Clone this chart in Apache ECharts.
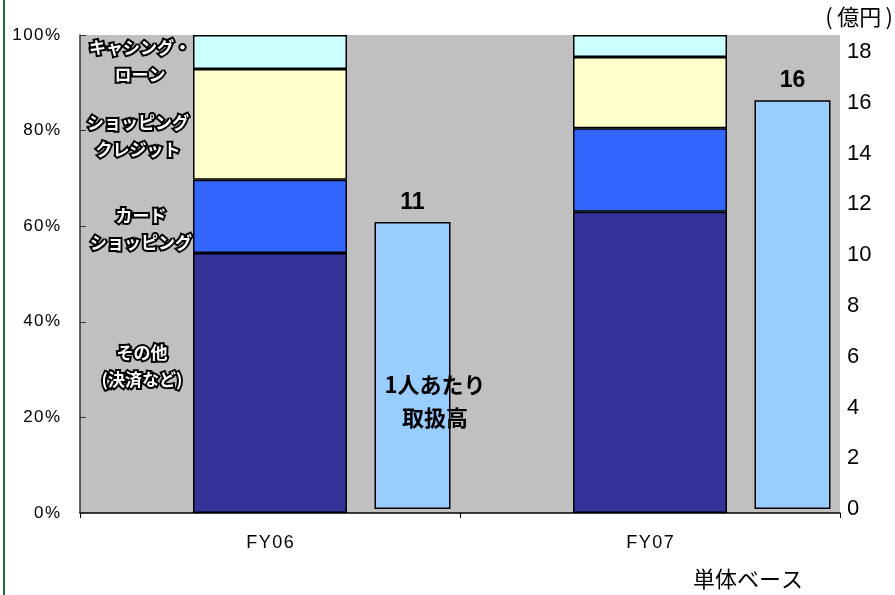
<!DOCTYPE html>
<html lang="ja">
<head>
<meta charset="UTF-8">
<title>取扱高構成</title>
<script src="https://cdn.jsdelivr.net/npm/echarts@6/dist/echarts.min.js"></script>
<style>
  html, body { margin: 0; padding: 0; background: #fff; }
  #main { width: 895px; height: 595px; }
</style>
</head>
<body>
<div id="main"></div>
<script>
// データ
var years = ['FY06', 'FY07'];
var otherPct = [54.4, 63.0];      // その他(決済など)
var cardPct = [15.3, 17.5];       // カードショッピング
var creditPct = [23.2, 14.9];     // ショッピングクレジット
var cashingPct = [7.1, 4.6];      // キャシング・ローン
var perPerson = [11.3, 16.1];     // 1人あたり取扱高 (億円)
var leftTicks = [0, 20, 40, 60, 80, 100];
var rightTicks = [0, 2, 4, 6, 8, 10, 12, 14, 16, 18];

// 1人あたり取扱高は 8 分割の軸の 4 番目・8 番目に置く
var slots = ['', '', '', '', '', '', '', ''];
var perPersonSlots = [null, null, null, perPerson[0], null, null, null, perPerson[1]];

var myChart = echarts.init(document.getElementById('main'));

var border = { borderColor: '#000', borderWidth: 1.5 };
function stackSeries(name, data, color) {
    return {
        name: name, type: 'bar', stack: 'pct',
        xAxisIndex: 0, yAxisIndex: 0,
        barWidth: 154,
        itemStyle: Object.assign({ color: color }, border),
        data: data
    };
}

var whiteText = function (text, x, y) {
    return {
        type: 'text', x: x, y: y,
        style: {
            text: text, fill: '#fff', stroke: '#000', lineWidth: 4,
            font: 'bold 17px "Noto Sans CJK JP"',
            textAlign: 'center', textVerticalAlign: 'middle', lineHeight: 27
        },
        z: 100
    };
};

var option = {
    animation: false,
    grid: [
        { left: 80, right: 55, top: 35, bottom: 82, show: true, backgroundColor: '#C0C0C0', borderWidth: 0 },
        { left: 80, right: 55, top: 52, bottom: 86 }
    ],
    xAxis: [
        {
            type: 'category', gridIndex: 0, data: years,
            axisLine: { lineStyle: { color: '#000', width: 1.5 } },
            axisTick: { show: true, length: 5, lineStyle: { color: '#000' } },
            axisLabel: {
                color: '#000', fontSize: 18, fontFamily: 'Liberation Sans', margin: 21,
                formatter: function (v) { return v.split('').join('\u200a'); }
            }
        },
        { type: 'category', gridIndex: 1, data: slots, show: false }
    ],
    yAxis: [
        {
            type: 'value', gridIndex: 0, min: 0, max: 100, interval: 20,
            axisLine: { show: true, lineStyle: { color: '#333', width: 1.5 } },
            axisTick: { show: true, inside: true, length: 6, lineStyle: { color: '#333' } },
            splitLine: { show: false },
            axisLabel: {
                color: '#000', fontSize: 17, fontFamily: 'Liberation Sans', margin: 20,
                formatter: function (v) { return leftTicks.indexOf(v) >= 0 ? (v + '%').split('').join('\u200a') : ''; }
            }
        },
        {
            type: 'value', gridIndex: 1, position: 'right', min: 0, max: 18, interval: 2,
            axisLine: { show: false }, axisTick: { show: false }, splitLine: { show: false },
            axisLabel: {
                color: '#000', fontSize: 22, fontFamily: 'Liberation Sans', margin: 7,
                formatter: function (v) { return rightTicks.indexOf(v) >= 0 ? String(v) : ''; }
            }
        }
    ],
    series: [
        stackSeries('その他(決済など)', otherPct, '#333399'),
        stackSeries('カードショッピング', cardPct, '#3366FF'),
        stackSeries('ショッピングクレジット', creditPct, '#FFFFCC'),
        stackSeries('キャシング・ローン', cashingPct, '#CCFFFF'),
        {
            name: '1人あたり取扱高', type: 'bar',
            xAxisIndex: 1, yAxisIndex: 1,
            barWidth: 76,
            itemStyle: Object.assign({ color: '#99CCFF' }, border),
            label: {
                show: true, position: 'top', distance: 8,
                color: '#000', fontSize: 23, fontWeight: 'bold', fontFamily: 'Liberation Sans',
                formatter: function (p) { return Math.round(p.value); }
            },
            data: perPersonSlots
        }
    ],
    graphic: [
        { type: 'rect', shape: { x: 3, y: 0, width: 2, height: 595 }, style: { fill: '#1E6B3C' } },
        whiteText('キャシング・\nローン', 140, 61),
        whiteText('ショッピング\nクレジット', 138, 136),
        whiteText('カード\nショッピング', 141, 229),
        whiteText('その他\n(決済など)', 142, 366),
        {
            type: 'text', x: 435, y: 401, z: 100,
            style: {
                text: '1人あたり\n取扱高', fill: '#000',
                font: 'bold 22px "Noto Sans CJK JP"',
                textAlign: 'center', textVerticalAlign: 'middle', lineHeight: 33
            }
        },
        {
            type: 'text', x: 893, y: 17,
            style: { text: '(\u2009億円\u2009)', fill: '#000', font: '22px "Noto Sans CJK JP"', textAlign: 'right', textVerticalAlign: 'middle' }
        },
        {
            type: 'text', x: 748, y: 579,
            style: { text: '単体ベース', fill: '#000', font: '22px "Noto Sans CJK JP"', textAlign: 'center', textVerticalAlign: 'middle' }
        }
    ]
};

myChart.setOption(option);
</script>
</body>
</html>
